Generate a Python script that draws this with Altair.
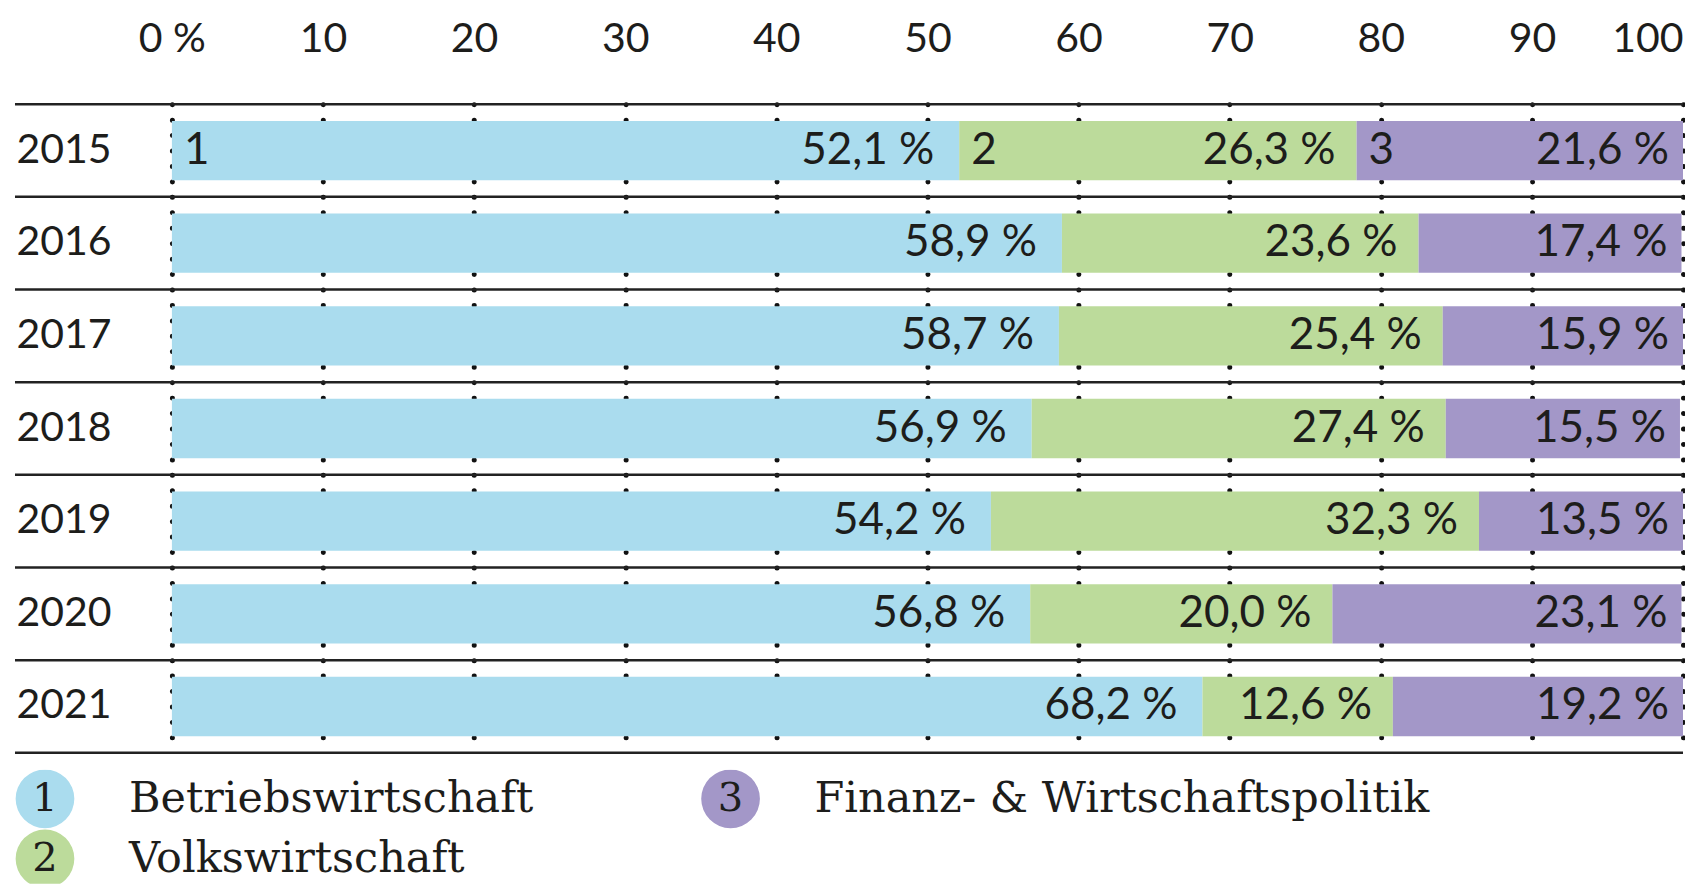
import altair as alt
import pandas as pd

years = ["2015", "2016", "2017", "2018", "2019", "2020", "2021"]
bwl = [52.1, 58.9, 58.7, 56.9, 54.2, 56.8, 68.2]
vwl = [26.3, 23.6, 25.4, 27.4, 32.3, 20.0, 12.6]
fwp = [21.6, 17.4, 15.9, 15.5, 13.5, 23.1, 19.2]
categories = ["Betriebswirtschaft", "Volkswirtschaft", "Finanz- & Wirtschaftspolitik"]
numbers = ["1", "2", "3"]
colors = ["#aadcee", "#bcdb9b", "#a397c8"]
tick_values = [0, 10, 20, 30, 40, 50, 60, 70, 80, 90, 100]
legend_col = [0, 0, 1]
legend_row = [0, 1, 0]

LEFT, W, H = 157, 1512, 649
FULLW = LEFT + W
TXT = "#1d1d1b"
SANS = "Lato"
SERIF = "DejaVu Serif"
label_dx = [-25, -21, -14]

rows = []
for i, y in enumerate(years):
    start = 0.0
    for k, vals in enumerate([bwl, vwl, fwp]):
        v = vals[i]
        rows.append(dict(Year=y, Kategorie=categories[k], Nr=numbers[k], Wert=v,
                         start=start, end=start + v,
                         Label=f"{v:.1f}".replace(".", ",") + " %"))
        start += v
df = pd.DataFrame(rows)
df_first = df[df.Year == years[0]]
df_years = pd.DataFrame({"Year": years})
df_last = pd.DataFrame({"Year": [years[-1]]})

color = alt.Color("Kategorie:N", scale=alt.Scale(domain=categories, range=colors), legend=None)

xaxis = alt.Axis(orient="top", values=tick_values, title=None,
                 labelExpr="datum.value == 0 ? '0 %' : datum.label",
                 labelAlign={"condition": {"test": "datum.value == 100", "value": "right"}, "value": "center"},
                 grid=True, gridDash=[0, H / 42], gridCap="round", gridWidth=5, gridColor="#111111",
                 domain=False, ticks=False, labelFont=SANS, labelFontSize=41,
                 labelColor=TXT, labelPadding=44)
yaxis = alt.Axis(title=None, labelAlign="left", labelBaseline="middle", labelPadding=-1,
                 ticks=False, tickSize=0, domain=False, labelFont=SANS, labelFontSize=41,
                 labelColor=TXT)
yscale = alt.Scale(type="band", paddingInner=0, paddingOuter=0)
xscale = alt.Scale(domain=[0, 100], nice=False, range=[LEFT, FULLW])


def X(field):
    return alt.X(field, scale=xscale, axis=xaxis)


def Y(**kw):
    return alt.Y("Year:N", sort=years, scale=yscale, axis=yaxis, **kw)


bars = alt.Chart(df).mark_bar(height={"band": 0.64}).encode(
    x=X("start:Q"), x2="end:Q", y=Y(), color=color)

value_layers = []
for k, cat in enumerate(categories):
    value_layers.append(
        alt.Chart(df).transform_filter(alt.datum.Kategorie == cat)
        .mark_text(align="right", baseline="middle", dx=label_dx[k],
                   font=SANS, fontSize=44, color=TXT)
        .encode(x=X("end:Q"), y=Y(), text="Label:N")
    )

nums = alt.Chart(df_first).mark_text(align="left", baseline="middle", dx=12,
                                     font=SANS, fontSize=44, color=TXT).encode(
    x=X("start:Q"), y=Y(), text="Nr:N")

seps = alt.Chart(df_years).mark_rule(strokeWidth=2.5, color="#222222").encode(
    y=Y(bandPosition=0), x=alt.value(0), x2=alt.value(FULLW))
sep_last = alt.Chart(df_last).mark_rule(strokeWidth=2.5, color="#222222").encode(
    y=Y(bandPosition=1), x=alt.value(0), x2=alt.value(FULLW))

main = alt.layer(bars, seps, sep_last, *value_layers, nums).properties(width=FULLW, height=H)

leg_df = pd.DataFrame({"Nr": numbers, "Kategorie": categories, "col": legend_col, "row": legend_row})
LH = 114
lx = alt.X("col:Q", scale=alt.Scale(domain=[0, 1], range=[30, 716]), axis=None)
ly = alt.Y("row:Q", scale=alt.Scale(domain=[0, 1], range=[29, 89]), axis=None)
leg_base = alt.Chart(leg_df).encode(x=lx, y=ly)
leg_circles = leg_base.mark_circle(size=3450, opacity=1, clip=True).encode(color=color)
leg_nums = leg_base.mark_text(font=SERIF, fontSize=40, color=TXT, baseline="middle",
                              clip=True).encode(text="Nr:N")
leg_labels = leg_base.mark_text(font=SERIF, fontSize=43, color=TXT, align="left",
                                baseline="middle", dx=84, clip=True).encode(text="Kategorie:N")
legend = alt.layer(leg_circles, leg_nums, leg_labels).properties(width=FULLW, height=LH)

chart = alt.vconcat(main, legend, spacing=15).properties(
    padding={"left": 5, "top": 10, "right": 0, "bottom": 0}
).configure_view(stroke=None)

chart.save("out.html", embed_options={"renderer": "svg", "actions": False})
